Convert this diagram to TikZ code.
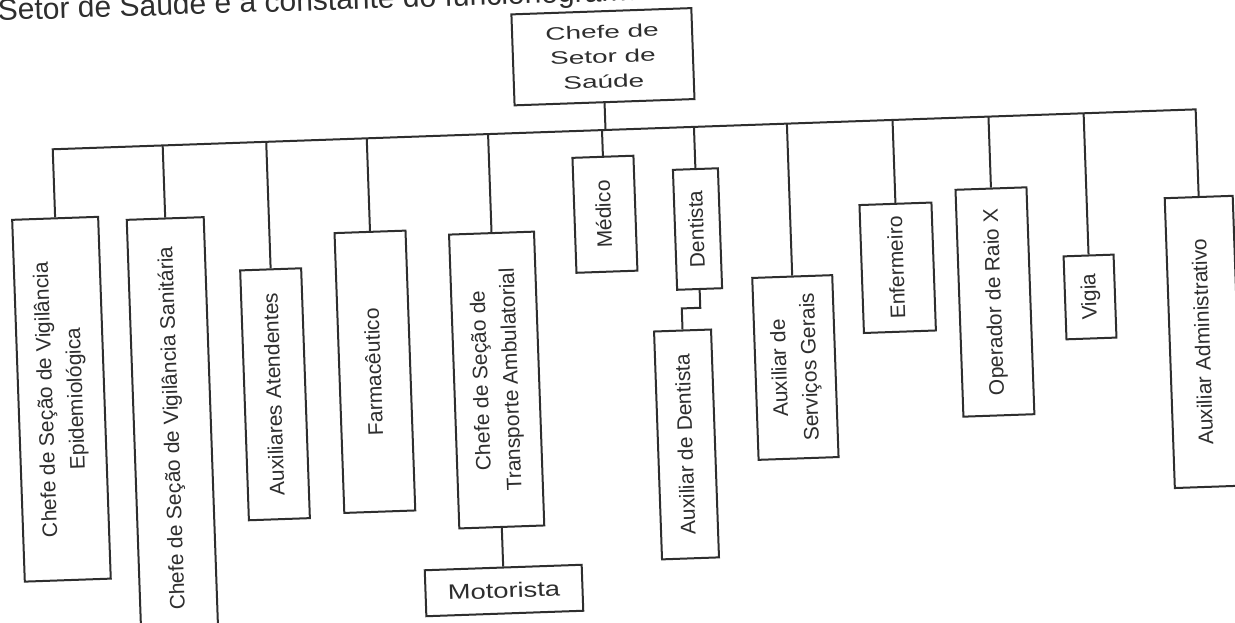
\documentclass[tikz,border=0pt]{standalone}
\usepackage{fontspec}
\setmainfont{Liberation Sans}
\newfontfamily\widesans[FakeStretch=1.55]{Liberation Sans}
\newfontfamily\midsans[FakeStretch=1.3]{Liberation Sans}
\definecolor{ink}{HTML}{2E2E2E}
% text set bottom-to-top inside an upright box
\newcommand\uptext[1]{\rotatebox{90}{\begin{tabular}{@{}c@{}}#1\end{tabular}}}

\begin{document}
\begin{tikzpicture}[x=1pt,y=1pt,
  orgbox/.style={draw=ink, line width=2pt, fill=white, inner sep=0pt, text=ink,
                 font=\fontsize{21}{30}\selectfont},
  link/.style={draw=ink, line width=2pt},
]
\useasboundingbox (0,0) rectangle (1235,-623);
\clip (0,0) rectangle (1235,-623);
\fill[white] (0,0) rectangle (1235,-623);

% running text line above the chart
\node[anchor=base west, rotate=1.8, text=ink, inner sep=0pt,
      font=\fontsize{30}{36}\selectfont] (intro) at (-2,-20.5)
      {Setor de Saúde é a constante do funcionograma};

\begin{scope}[shift={(605,-130)}, rotate=2, transform shape]
  % head of the sector
  \node[orgbox, minimum width=180, minimum height=91, align=center,
        font=\widesans\fontsize{18}{25}\selectfont] (head) at (0.5,73.3)
        {Chefe de\\Setor de\\Saúde};

  % subordinate positions
  \node[orgbox, minimum width=86, minimum height=362] (epid) at (-552.6,-250.1)
        {\uptext{Chefe de Seção de Vigilância\\Epidemiológica}};
  \node[orgbox, minimum width=77, minimum height=420] (sanit) at (-442.6,-283.1)
        {\uptext{Chefe de Seção de Vigilância Sanitária}};
  \node[orgbox, minimum width=61, minimum height=250] (atend) at (-339.0,-252.6)
        {\uptext{Auxiliares Atendentes}};
  \node[orgbox, minimum width=71, minimum height=280] (farm) at (-238.4,-233.6)
        {\uptext{Farmacêutico}};
  \node[orgbox, minimum width=85, minimum height=294] (transp) at (-117.0,-246.1)
        {\uptext{Chefe de Seção de\\Transporte Ambulatorial}};
  \node[orgbox, minimum width=157, minimum height=46,
        font=\midsans\fontsize{21}{26}\selectfont] (moto) at (-117.0,-456.7)
        {Motorista};
  \node[orgbox, minimum width=61, minimum height=115] (medico) at (-3.0,-84.2)
        {\uptext{Médico}};
  \node[orgbox, minimum width=45, minimum height=120] (dent) at (89.0,-102.2)
        {\uptext{Dentista}};
  \node[orgbox, minimum width=57, minimum height=228] (auxdent) at (70.5,-317.1)
        {\uptext{Auxiliar de Dentista}};
  \node[orgbox, minimum width=80, minimum height=182] (servger) at (182.0,-244.0)
        {\uptext{Auxiliar de\\Serviços Gerais}};
  \node[orgbox, minimum width=72, minimum height=128] (enf) at (287.7,-147.9)
        {\uptext{Enfermeiro}};
  \node[orgbox, minimum width=71, minimum height=227] (raiox) at (383.7,-185.5)
        {\uptext{Operador de Raio X}};
  \node[orgbox, minimum width=50, minimum height=83] (vigia) at (478.9,-183.8)
        {\uptext{Vigia}};
  \node[orgbox, minimum width=68, minimum height=290] (admin) at (591.0,-232.7)
        {\uptext{Auxiliar Administrativo}};

  % junctions on the horizontal bus
  \coordinate (jhead)    at (0.5,0);
  \coordinate (jepid)    at (-552.6,0);
  \coordinate (jsanit)   at (-442.6,0);
  \coordinate (jatend)   at (-339.0,0);
  \coordinate (jfarm)    at (-238.4,0);
  \coordinate (jtransp)  at (-117.0,0);
  \coordinate (jmedico)  at (-3.0,0);
  \coordinate (jdent)    at (89.0,0);
  \coordinate (jservger) at (182.0,0);
  \coordinate (jenf)     at (287.7,0);
  \coordinate (jraiox)   at (383.7,0);
  \coordinate (jvigia)   at (478.9,0);
  \coordinate (jadmin)   at (591.0,0);
  % elbow between Dentista and its assistant
  \coordinate (elbowA) at (89.0,-181);
  \coordinate (elbowB) at (70.5,-181);

  % connectors
  \draw[link] (epid.north) -- (jepid) -- (jadmin) -- (admin.north);
  \draw[link] (head.south) -- (jhead);
  \draw[link] (sanit.north) -- (jsanit);
  \draw[link] (atend.north) -- (jatend);
  \draw[link] (farm.north) -- (jfarm);
  \draw[link] (transp.north) -- (jtransp);
  \draw[link] (medico.north) -- (jmedico);
  \draw[link] (dent.north) -- (jdent);
  \draw[link] (servger.north) -- (jservger);
  \draw[link] (enf.north) -- (jenf);
  \draw[link] (raiox.north) -- (jraiox);
  \draw[link] (vigia.north) -- (jvigia);
  \draw[link] (transp.south) -- (moto.north);
  \draw[link] (dent.south) -- (elbowA) -- (elbowB) -- (auxdent.north);
\end{scope}
\end{tikzpicture}
\end{document}
